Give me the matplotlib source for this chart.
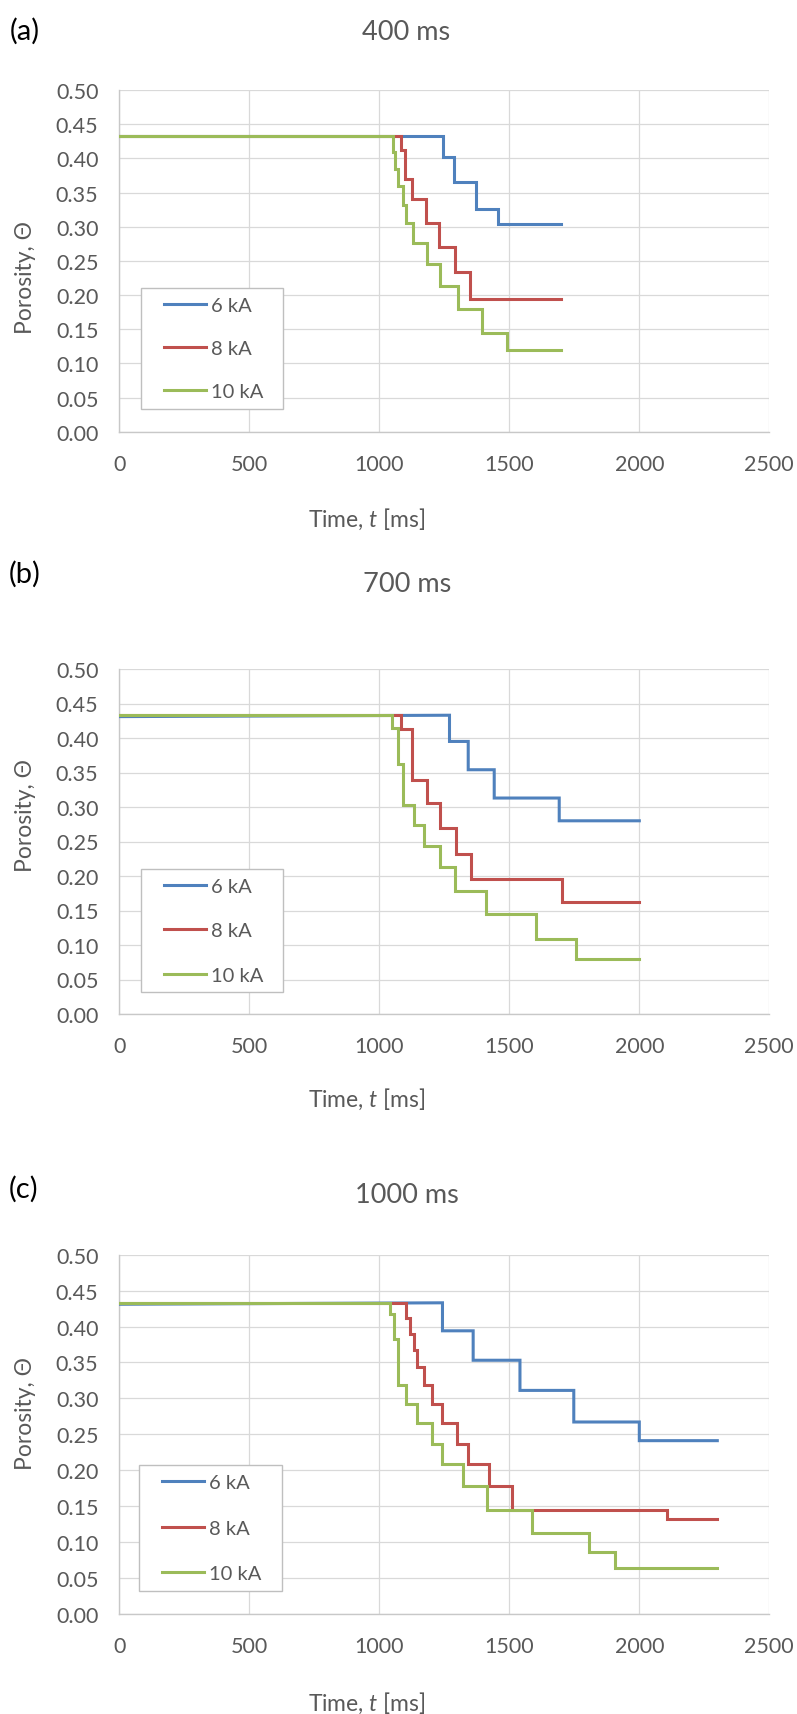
import matplotlib
matplotlib.use("Agg")
import matplotlib.pyplot as plt
from matplotlib.patches import Rectangle

plt.rcParams['font.family'] = ['Lato', 'DejaVu Sans']
plt.rcParams['mathtext.fontset'] = 'custom'
plt.rcParams['mathtext.it'] = 'Lato:italic'
plt.rcParams['mathtext.rm'] = 'Lato'

# ---------------- data ----------------
titles = ["400 ms", "700 ms", "1000 ms"]
panel_tags = ["(a)", "(b)", "(c)"]
series_labels = ["6 kA", "8 kA", "10 kA"]
end_times = [1700, 2000, 2300]

# panel (a) 400 ms
a_blue_start = 0.433
a_blue_t = [1244, 1289, 1372, 1455]
a_blue_v = [0.433, 0.402, 0.365, 0.326, 0.304]
a_red_start = 0.433
a_red_t = [1082, 1099, 1127, 1178, 1231, 1291, 1350]
a_red_v = [0.433, 0.412, 0.370, 0.340, 0.305, 0.270, 0.233, 0.194]
a_green_start = 0.433
a_green_t = [1051, 1060, 1071, 1090, 1102, 1131, 1182, 1233, 1304, 1394, 1492]
a_green_v = [0.433, 0.410, 0.384, 0.359, 0.332, 0.305, 0.276, 0.245, 0.213, 0.180, 0.145, 0.120]

# panel (b) 700 ms
b_blue_start = 0.431
b_blue_t = [1270, 1342, 1442, 1692]
b_blue_v = [0.433, 0.395, 0.354, 0.313, 0.280]
b_red_start = 0.433
b_red_t = [1083, 1125, 1184, 1234, 1295, 1353, 1702]
b_red_v = [0.433, 0.413, 0.339, 0.306, 0.270, 0.232, 0.195, 0.163]
b_green_start = 0.433
b_green_t = [1050, 1071, 1091, 1133, 1172, 1232, 1293, 1412, 1604, 1758]
b_green_v = [0.433, 0.414, 0.362, 0.303, 0.274, 0.244, 0.213, 0.178, 0.1445, 0.108, 0.080]

# panel (c) 1000 ms
c_blue_start = 0.431
c_blue_t = [1243, 1361, 1541, 1748, 2000]
c_blue_v = [0.433, 0.394, 0.353, 0.311, 0.267, 0.241]
c_red_start = 0.433
c_red_t = [1103, 1119, 1133, 1144, 1171, 1202, 1243, 1300, 1342, 1422, 1512, 2107]
c_red_v = [0.433, 0.412, 0.390, 0.367, 0.343, 0.318, 0.292, 0.265, 0.237, 0.208, 0.178, 0.145, 0.1315]
c_green_start = 0.433
c_green_t = [1042, 1057, 1071, 1104, 1144, 1202, 1243, 1323, 1413, 1589, 1805, 1905]
c_green_v = [0.433, 0.417, 0.382, 0.318, 0.292, 0.265, 0.237, 0.208, 0.178, 0.145, 0.112, 0.0855, 0.063]

x_ticks = [0, 500, 1000, 1500, 2000, 2500]
y_ticks = [0.00, 0.05, 0.10, 0.15, 0.20, 0.25, 0.30, 0.35, 0.40, 0.45, 0.50]

panels = [
    [(a_blue_start, a_blue_t, a_blue_v), (a_red_start, a_red_t, a_red_v), (a_green_start, a_green_t, a_green_v)],
    [(b_blue_start, b_blue_t, b_blue_v), (b_red_start, b_red_t, b_red_v), (b_green_start, b_green_t, b_green_v)],
    [(c_blue_start, c_blue_t, c_blue_v), (c_red_start, c_red_t, c_red_v), (c_green_start, c_green_t, c_green_v)],
]
colors = ["#4F81BD", "#C0504D", "#9BBB59"]


def corners(start, times, levels, end):
    xs = [0]
    ys = [start]
    for i, t in enumerate(times):
        xs += [t, t]
        ys += [levels[i], levels[i + 1]]
    xs.append(end)
    ys.append(levels[-1])
    return xs, ys


# ---------------- layout (pixels) ----------------
W, H = 797, 1715
fig = plt.figure(figsize=(W / 100, H / 100), dpi=100)

ax_px = [(119.3, 91.0, 769.3, 432.7), (119.3, 670.0, 769.3, 1015.0), (119.3, 1255.7, 769.3, 1614.7)]
tag_px = [(25, 31), (25, 574), (24, 1189)]
title_px = [(406, 33), (407, 585), (407, 1196)]
ylab_px = [(26, 277), (26, 815), (26, 1413)]
xlab_px = [(367, 519), (367, 1099), (367, 1703)]
leg_box_px = [(141, 289.3, 283.3, 410.0), (141, 870.0, 283.3, 993.3), (139.3, 1466.0, 281.7, 1592.3)]
leg_mid_px = [(164, 349.3), (164, 931.7), (162, 1529.0)]
leg_spacing = [1.3, 1.36, 1.4]

grey = "#595959"
gridc = "#D9D9D9"

def fx(x):
    return x / W

def fy(y):
    return 1 - y / H

for i in range(3):
    l, t, r, b = ax_px[i]
    ax = fig.add_axes([fx(l), fy(b), (r - l) / W, (b - t) / H])
    for (start, times, levels), col, lab in zip(panels[i], colors, series_labels):
        xs, ys = corners(start, times, levels, end_times[i])
        ax.plot(xs, ys, color=col, lw=2.2, label=lab, solid_joinstyle='miter', zorder=3)
    ax.set_xlim(0, 2500)
    ax.set_ylim(0, 0.5)
    ax.set_xticks(x_ticks)
    ax.set_yticks(y_ticks)
    ax.set_yticklabels([f"{v:.2f}" for v in y_ticks])
    ax.grid(True, color=gridc, lw=0.9, zorder=0)
    ax.set_axisbelow(True)
    for s in ["top", "right"]:
        ax.spines[s].set_visible(False)
    for s in ["left", "bottom"]:
        ax.spines[s].set_color("#C8C8C8")
        ax.spines[s].set_linewidth(1.0)
    ax.tick_params(axis='both', length=0, labelsize=15.5, labelcolor=grey)
    ax.tick_params(axis='y', pad=15)
    ax.tick_params(axis='x', pad=16)

    # legend box + entries
    bl, bt, br, bb = leg_box_px[i]
    rect = Rectangle((fx(bl), fy(bb)), (br - bl) / W, (bb - bt) / H, transform=fig.transFigure,
                     facecolor="white", edgecolor="#BFBFBF", lw=1.0, zorder=4, clip_on=False)
    ax.add_patch(rect)
    mx, my = leg_mid_px[i]
    leg = ax.legend(loc='center left', bbox_to_anchor=(fx(mx), fy(my)), bbox_transform=fig.transFigure,
                    frameon=False, fontsize=14.5, handlelength=2.1, handletextpad=0.25,
                    labelspacing=leg_spacing[i], borderpad=0, borderaxespad=0)
    leg.set_zorder(5)
    for txt in leg.get_texts():
        txt.set_color(grey)

    fig.text(fx(tag_px[i][0]), fy(tag_px[i][1]), panel_tags[i], fontsize=21, color="black",
             ha='center', va='center')
    fig.text(fx(title_px[i][0]), fy(title_px[i][1]), titles[i], fontsize=19.5, color=grey,
             ha='center', va='center')
    fig.text(fx(ylab_px[i][0]), fy(ylab_px[i][1]), "Porosity, Θ", fontsize=16.5, color=grey,
             ha='center', va='center', rotation=90)
    fig.text(fx(xlab_px[i][0]), fy(xlab_px[i][1]), r"Time, $\it{t}$ [ms]", fontsize=16.5, color=grey,
             ha='center', va='center')

fig.savefig("out.png", dpi=100)
